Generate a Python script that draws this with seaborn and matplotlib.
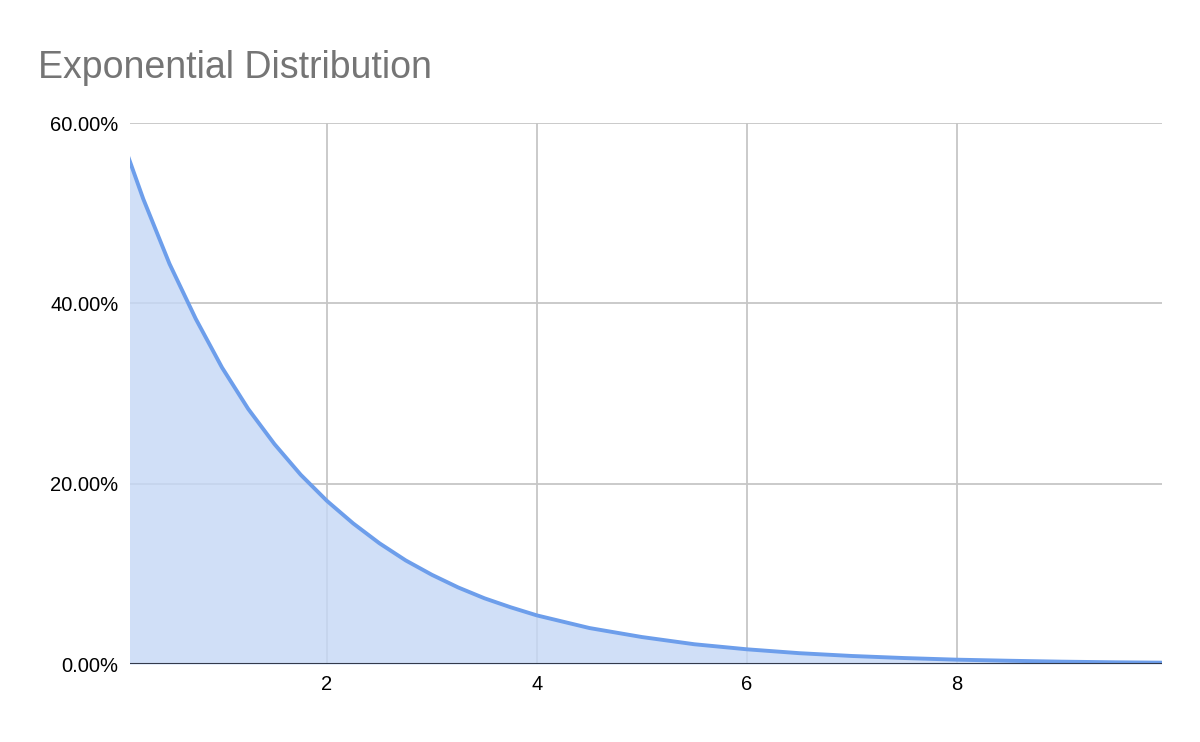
import matplotlib
matplotlib.use("Agg")
import matplotlib.pyplot as plt
import seaborn as sns
import pandas as pd

x_vals = [0.1, 0.25, 0.5, 0.75, 1.0, 1.25, 1.5, 1.75, 2.0, 2.25, 2.5, 2.75, 3.0, 3.25, 3.5, 3.75, 4.0, 4.5, 5.0, 5.5, 6.0, 6.5, 7.0, 7.5, 8.0, 8.5, 9.0, 9.5, 9.95]
y_vals = [0.565, 0.516, 0.444, 0.383, 0.329, 0.283, 0.244, 0.210, 0.181, 0.156, 0.134, 0.115, 0.099, 0.085, 0.073, 0.063, 0.054, 0.040, 0.030, 0.022, 0.0164, 0.0121, 0.0090, 0.0067, 0.0049, 0.0037, 0.0027, 0.0020, 0.0016]
x_ticks = [2, 4, 6, 8]
y_ticks = [0, 0.2, 0.4, 0.6]
y_labels = ["0.00%", "20.00%", "40.00%", "60.00%"]

sns.set_style("white")
plt.rcParams['font.family'] = ['Liberation Sans', 'DejaVu Sans']
df = pd.DataFrame({"x": x_vals, "y": y_vals})
fig = plt.figure(figsize=(12, 7.42), dpi=100)
ax = fig.add_axes([0.108, 0.105, 0.86, 0.729])
ax.grid(True, color="#c6c6c6", lw=1.3, zorder=0)
ax.set_axisbelow(True)
ax.fill_between(df["x"], df["y"], 0, color="#c5d8f6", alpha=0.8, lw=0, zorder=1)
sns.lineplot(data=df, x="x", y="y", ax=ax, color="#6d9eeb", lw=2.8, zorder=3)
ax.set_xlim(0.12, 9.95)
ax.set_ylim(0, 0.6)
ax.set_xticks(x_ticks)
ax.set_xticklabels([str(t) for t in x_ticks])
ax.set_yticks(y_ticks)
ax.set_yticklabels(y_labels)
for s in ax.spines.values():
    s.set_visible(False)
ax.axhline(0, color="#333a4a", lw=1.5, zorder=4)
ax.tick_params(length=0, labelsize=14.5, colors="#000000", pad=8)
ax.set_xlabel("")
ax.set_ylabel("")
fig.text(0.032, 0.895, "Exponential Distribution", fontsize=27, color="#757575")
fig.savefig("out.png")
